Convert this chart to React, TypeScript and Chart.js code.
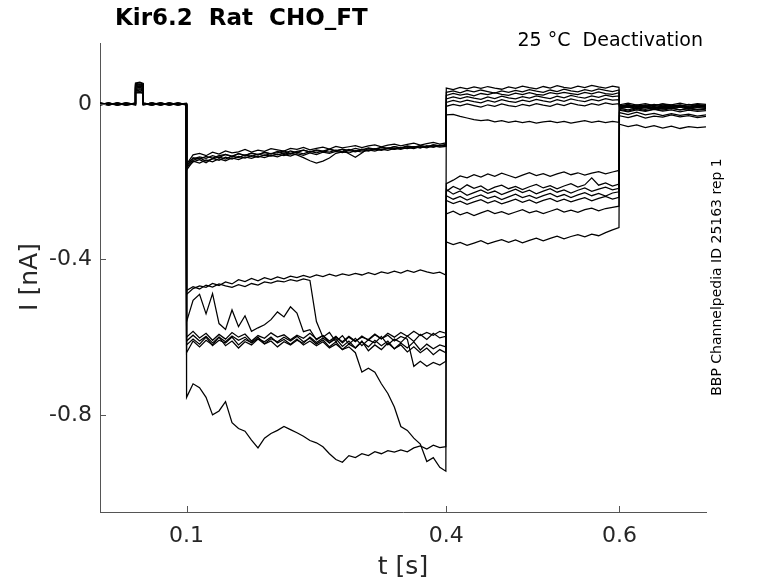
import { useEffect, useRef } from "react";
import { Chart, registerables } from "chart.js";

Chart.register(...registerables);

// sample times (s): holding, prepulse 0.1-0.4, test 0.4-0.6, tail 0.6-0.7
const tBase = [0, 0.01, 0.02, 0.03, 0.041, 0.041, 0.046, 0.05, 0.05, 0.06, 0.07, 0.08, 0.09, 0.0995];
const tStep = Array.from({ length: 40 }, (_, k) => 0.1 + 0.0075 * k).concat([0.3995]);
const tTest = Array.from({ length: 25 }, (_, k) => 0.4 + 0.008 * k).concat([0.5995]);
const tTail = Array.from({ length: 11 }, (_, k) => 0.6 + 0.01 * k);
const times = [...tBase, ...tStep, ...tTest, ...tTail];

// current (nA) per sweep: base / prepulse / test / tail
const sweep01 = [
  0.002, -0.002, 0.003, -0.001, 0.001, 0.052, 0.055, 0.051, 0.002, -0.002, 0.001, -0.003, 0.002, 0.0,
  -0.155, -0.131, -0.127, -0.133, -0.124, -0.129, -0.121, -0.126, -0.123, -0.117, -0.124, -0.119, -0.122, -0.115, -0.118, -0.121, -0.114, -0.117, -0.112, -0.118, -0.114, -0.111, -0.116, -0.109, -0.113, -0.11, -0.107, -0.112, -0.108, -0.105, -0.11, -0.106, -0.103, -0.108, -0.104, -0.101, -0.106, -0.102, -0.099, -0.103, -0.1,
  0.041, 0.037, 0.043, 0.039, 0.044, 0.04, 0.045, 0.041, 0.038, 0.044, 0.04, 0.046, 0.042, 0.039, 0.045, 0.041, 0.047, 0.043, 0.04, 0.046, 0.042, 0.048, 0.044, 0.041, 0.046, 0.043,
  -0.002, 0.002, -0.003, 0.001, -0.004, 0.0, -0.002, 0.002, -0.003, 0.001, -0.001,
];
const sweep02 = [
  -0.001, 0.003, -0.002, 0.002, -0.001, 0.048, 0.05, 0.047, -0.002, 0.003, -0.001, 0.002, -0.002, 0.001,
  -0.16, -0.138, -0.142, -0.135, -0.139, -0.133, -0.13, -0.136, -0.128, -0.132, -0.127, -0.131, -0.124, -0.128, -0.125, -0.121, -0.127, -0.122, -0.119, -0.124, -0.12, -0.123, -0.117, -0.121, -0.116, -0.119, -0.114, -0.118, -0.113, -0.116, -0.111, -0.114, -0.11, -0.113, -0.108, -0.111, -0.107, -0.11, -0.105, -0.108, -0.106,
  0.03, 0.034, 0.029, 0.035, 0.031, 0.036, 0.032, 0.028, 0.034, 0.03, 0.035, 0.031, 0.037, 0.033, 0.03, 0.036, 0.032, 0.038, 0.034, 0.031, 0.037, 0.033, 0.039, 0.035, 0.032, 0.036,
  -0.005, -0.001, -0.006, -0.002, -0.004, 0.0, -0.005, -0.002, -0.006, -0.001, -0.004,
];
const sweep03 = [
  0.001, -0.003, 0.002, -0.002, 0.002, 0.044, 0.046, 0.043, 0.001, -0.003, 0.002, -0.001, 0.003, -0.002,
  -0.158, -0.145, -0.139, -0.147, -0.141, -0.136, -0.142, -0.134, -0.138, -0.131, -0.135, -0.129, -0.133, -0.127, -0.131, -0.126, -0.129, -0.124, -0.128, -0.122, -0.126, -0.121, -0.124, -0.119, -0.123, -0.117, -0.121, -0.116, -0.119, -0.115, -0.118, -0.113, -0.116, -0.112, -0.114, -0.11, -0.113, -0.108, -0.111, -0.107, -0.109,
  0.022, 0.027, 0.023, 0.026, 0.021, 0.027, 0.024, 0.029, 0.025, 0.022, 0.028, 0.024, 0.029, 0.025, 0.023, 0.029, 0.026, 0.03, 0.027, 0.024, 0.03, 0.026, 0.031, 0.027, 0.025, 0.029,
  -0.007, -0.003, -0.008, -0.004, -0.009, -0.005, -0.007, -0.003, -0.008, -0.004, -0.006,
];
const sweep04 = [
  -0.002, 0.001, -0.003, 0.001, -0.002, 0.04, 0.042, 0.039, -0.001, 0.002, -0.002, 0.001, -0.003, 0.001,
  -0.163, -0.149, -0.143, -0.151, -0.14, -0.145, -0.137, -0.142, -0.135, -0.139, -0.133, -0.137, -0.131, -0.134, -0.129, -0.133, -0.127, -0.131, -0.138, -0.146, -0.152, -0.147, -0.139, -0.127, -0.123, -0.126, -0.12, -0.124, -0.118, -0.121, -0.116, -0.119, -0.114, -0.117, -0.112, -0.115, -0.11, -0.113, -0.108, -0.111, -0.109,
  0.013, 0.018, 0.014, 0.019, 0.015, 0.012, 0.018, 0.014, 0.02, 0.016, 0.013, 0.019, 0.015, 0.021, 0.017, 0.014, 0.02, 0.016, 0.022, 0.018, 0.015, 0.021, 0.017, 0.023, 0.019, 0.021,
  -0.01, -0.006, -0.011, -0.007, -0.012, -0.008, -0.01, -0.006, -0.011, -0.007, -0.009,
];
const sweep05 = [
  0.003, -0.001, 0.001, -0.003, 0.001, 0.034, 0.036, 0.033, 0.002, -0.001, 0.003, -0.002, 0.001, -0.001,
  -0.152, -0.141, -0.136, -0.14, -0.133, -0.138, -0.13, -0.134, -0.128, -0.133, -0.126, -0.13, -0.125, -0.128, -0.122, -0.127, -0.121, -0.125, -0.119, -0.123, -0.118, -0.121, -0.116, -0.12, -0.117, -0.128, -0.137, -0.126, -0.114, -0.118, -0.112, -0.115, -0.11, -0.114, -0.109, -0.112, -0.107, -0.11, -0.105, -0.108, -0.104,
  0.004, 0.009, 0.005, 0.01, 0.006, 0.003, 0.009, 0.005, 0.011, 0.007, 0.004, 0.01, 0.006, 0.012, 0.008, 0.005, 0.011, 0.007, 0.013, 0.009, 0.006, 0.012, 0.008, 0.014, 0.01, 0.011,
  -0.004, -0.009, -0.005, -0.01, -0.006, -0.011, -0.007, -0.004, -0.009, -0.005, -0.008,
];
const sweep06 = [
  -0.001, 0.002, -0.002, 0.003, -0.001, 0.03, 0.031, 0.029, -0.002, 0.001, -0.002, 0.002, -0.001, 0.002,
  -0.17, -0.147, -0.152, -0.144, -0.149, -0.141, -0.146, -0.139, -0.143, -0.136, -0.14, -0.134, -0.138, -0.132, -0.136, -0.13, -0.134, -0.128, -0.132, -0.126, -0.13, -0.124, -0.127, -0.122, -0.125, -0.12, -0.123, -0.118, -0.121, -0.116, -0.119, -0.114, -0.117, -0.112, -0.115, -0.11, -0.113, -0.108, -0.111, -0.106, -0.108,
  -0.006, -0.001, -0.005, 0.0, -0.004, -0.008, -0.002, -0.006, 0.0, -0.004, -0.007, -0.001, -0.005, 0.001, -0.003, -0.006, 0.0, -0.004, 0.002, -0.002, -0.005, 0.001, -0.003, 0.003, -0.001, 0.001,
  -0.012, -0.008, -0.013, -0.009, -0.014, -0.01, -0.012, -0.008, -0.013, -0.009, -0.011,
];
const sweep07 = [
  0.001, -0.002, 0.002, -0.001, 0.002, 0.054, 0.056, 0.053, 0.001, -0.002, 0.002, -0.001, 0.001, -0.002,
  -0.49, -0.475, -0.468, -0.472, -0.462, -0.467, -0.458, -0.463, -0.452, -0.457, -0.449, -0.455, -0.447, -0.452, -0.445, -0.45, -0.443, -0.447, -0.441, -0.446, -0.44, -0.444, -0.438, -0.443, -0.437, -0.441, -0.436, -0.44, -0.434, -0.439, -0.432, -0.436, -0.43, -0.435, -0.428, -0.433, -0.427, -0.432, -0.436, -0.433, -0.44,
  -0.028, -0.027, -0.032, -0.036, -0.04, -0.043, -0.041, -0.046, -0.043, -0.047, -0.044, -0.048, -0.045, -0.049, -0.046, -0.044, -0.048, -0.045, -0.049, -0.046, -0.043, -0.047, -0.044, -0.048, -0.045, -0.047,
  -0.003, -0.007, -0.002, -0.006, -0.001, -0.005, -0.002, -0.006, -0.001, -0.004, -0.003,
];
const sweep08 = [
  -0.002, 0.002, -0.001, 0.003, -0.001, 0.047, 0.049, 0.046, -0.001, 0.002, -0.002, 0.003, -0.001, 0.001,
  -0.48, -0.47, -0.476, -0.466, -0.471, -0.463, -0.468, -0.472, -0.465, -0.47, -0.462, -0.466, -0.458, -0.461, -0.455, -0.458, -0.452, -0.456, -0.45, -0.454, -0.56, -0.6, -0.588, -0.612, -0.596, -0.618, -0.603, -0.622, -0.607, -0.615, -0.598, -0.62, -0.605, -0.614, -0.597, -0.611, -0.593, -0.606, -0.59, -0.602, -0.598,
  -0.205, -0.196, -0.185, -0.19, -0.182, -0.188, -0.18, -0.186, -0.178, -0.184, -0.19, -0.183, -0.177, -0.184, -0.179, -0.186, -0.18, -0.175, -0.182, -0.177, -0.183, -0.178, -0.174, -0.18, -0.175, -0.171,
  -0.014, -0.018, -0.012, -0.017, -0.013, -0.016, -0.011, -0.015, -0.012, -0.016, -0.013,
];
const sweep09 = [
  0.002, -0.001, 0.003, -0.002, 0.001, 0.041, 0.043, 0.04, 0.002, -0.001, 0.003, -0.002, 0.002, -0.001,
  -0.56, -0.505, -0.49, -0.54, -0.488, -0.565, -0.58, -0.53, -0.573, -0.545, -0.585, -0.576, -0.568, -0.555, -0.535, -0.548, -0.522, -0.538, -0.586, -0.581, -0.607, -0.596, -0.615, -0.604, -0.624, -0.61, -0.628, -0.612, -0.625, -0.608, -0.622, -0.61, -0.63, -0.615, -0.628, -0.612, -0.633, -0.618, -0.63, -0.62, -0.625,
  -0.225, -0.212, -0.22, -0.208, -0.217, -0.211, -0.222, -0.214, -0.209, -0.218, -0.212, -0.22, -0.213, -0.207, -0.216, -0.21, -0.218, -0.211, -0.205, -0.214, -0.208, -0.19, -0.209, -0.203, -0.211, -0.206,
  -0.008, -0.004, -0.009, -0.005, -0.01, -0.006, -0.008, -0.004, -0.009, -0.005, -0.007,
];
const sweep10 = [
  -0.001, 0.002, -0.003, 0.001, -0.002, 0.037, 0.039, 0.036, -0.002, 0.001, -0.003, 0.002, -0.001, 0.001,
  -0.6, -0.585, -0.602, -0.59, -0.608, -0.593, -0.605, -0.588, -0.6, -0.592, -0.61, -0.596, -0.603, -0.589, -0.6, -0.594, -0.607, -0.595, -0.603, -0.59, -0.605, -0.596, -0.61, -0.598, -0.615, -0.6, -0.612, -0.597, -0.608, -0.594, -0.605, -0.59, -0.6, -0.588, -0.598, -0.585, -0.596, -0.588, -0.595, -0.585, -0.59,
  -0.22, -0.232, -0.224, -0.235, -0.228, -0.221, -0.23, -0.224, -0.233, -0.226, -0.219, -0.228, -0.222, -0.231, -0.224, -0.218, -0.227, -0.221, -0.229, -0.222, -0.216, -0.225, -0.219, -0.214, -0.221, -0.217,
  -0.011, -0.015, -0.01, -0.014, -0.009, -0.013, -0.01, -0.015, -0.011, -0.014, -0.012,
];
const sweep11 = [
  0.001, -0.002, 0.002, -0.003, 0.001, 0.031, 0.032, 0.03, 0.001, -0.002, 0.002, -0.003, 0.001, 0.0,
  -0.62, -0.605, -0.618, -0.6, -0.622, -0.608, -0.615, -0.6, -0.62, -0.606, -0.614, -0.6, -0.617, -0.604, -0.612, -0.6, -0.61, -0.598, -0.612, -0.603, -0.618, -0.607, -0.625, -0.612, -0.632, -0.618, -0.628, -0.61, -0.635, -0.62, -0.632, -0.615, -0.63, -0.62, -0.638, -0.625, -0.64, -0.628, -0.645, -0.632, -0.64,
  -0.236, -0.245, -0.238, -0.247, -0.24, -0.234, -0.243, -0.237, -0.246, -0.239, -0.232, -0.241, -0.235, -0.243, -0.236, -0.23, -0.239, -0.233, -0.241, -0.234, -0.228, -0.236, -0.23, -0.237, -0.229, -0.226,
  -0.022, -0.027, -0.021, -0.028, -0.024, -0.03, -0.025, -0.029, -0.026, -0.031, -0.028,
];
const sweep12 = [
  -0.002, 0.001, -0.001, 0.002, -0.002, 0.028, 0.029, 0.027, -0.001, 0.002, -0.002, 0.001, -0.002, 0.001,
  -0.64, -0.61, -0.625, -0.608, -0.62, -0.6, -0.622, -0.61, -0.628, -0.612, -0.62, -0.605, -0.618, -0.61, -0.625, -0.612, -0.62, -0.608, -0.616, -0.6, -0.614, -0.602, -0.615, -0.6, -0.612, -0.598, -0.61, -0.6, -0.606, -0.592, -0.604, -0.595, -0.61, -0.598, -0.605, -0.675, -0.662, -0.675, -0.665, -0.672, -0.662,
  -0.248, -0.256, -0.25, -0.258, -0.252, -0.246, -0.255, -0.249, -0.257, -0.251, -0.245, -0.253, -0.247, -0.255, -0.248, -0.243, -0.251, -0.245, -0.252, -0.246, -0.241, -0.249, -0.243, -0.238, -0.245, -0.24,
  -0.016, -0.02, -0.015, -0.019, -0.014, -0.018, -0.015, -0.02, -0.016, -0.019, -0.017,
];
const sweep13 = [
  0.002, -0.001, 0.001, -0.002, 0.002, 0.044, 0.046, 0.043, 0.001, -0.002, 0.001, -0.001, 0.002, -0.001,
  -0.755, -0.72, -0.73, -0.755, -0.8, -0.79, -0.766, -0.82, -0.835, -0.842, -0.865, -0.885, -0.86, -0.848, -0.84, -0.83, -0.838, -0.846, -0.855, -0.866, -0.872, -0.882, -0.9, -0.915, -0.922, -0.905, -0.91, -0.9, -0.905, -0.895, -0.9, -0.892, -0.896, -0.89, -0.895, -0.885, -0.88, -0.888, -0.878, -0.884, -0.882,
  -0.283, -0.276, -0.285, -0.279, -0.287, -0.28, -0.274, -0.282, -0.277, -0.284, -0.278, -0.272, -0.28, -0.275, -0.282, -0.276, -0.27, -0.278, -0.273, -0.279, -0.272, -0.268, -0.275, -0.269, -0.266, -0.263,
  -0.03, -0.035, -0.029, -0.036, -0.031, -0.034, -0.028, -0.033, -0.03, -0.035, -0.032,
];
const sweep14 = [
  -0.001, 0.002, -0.002, 0.001, -0.001, 0.05, 0.052, 0.049, -0.001, 0.002, -0.001, 0.002, -0.002, 0.001,
  -0.61, -0.595, -0.61, -0.598, -0.615, -0.6, -0.612, -0.597, -0.608, -0.6, -0.615, -0.604, -0.612, -0.6, -0.615, -0.606, -0.618, -0.605, -0.62, -0.61, -0.622, -0.612, -0.628, -0.618, -0.632, -0.625, -0.64, -0.69, -0.68, -0.69, -0.72, -0.745, -0.78, -0.83, -0.84, -0.86, -0.875, -0.92, -0.91, -0.935, -0.945,
  -0.355, -0.362, -0.356, -0.364, -0.358, -0.352, -0.36, -0.354, -0.349, -0.356, -0.35, -0.357, -0.351, -0.345, -0.352, -0.346, -0.34, -0.347, -0.341, -0.336, -0.342, -0.335, -0.339, -0.331, -0.324, -0.318,
  -0.052, -0.058, -0.054, -0.061, -0.056, -0.062, -0.057, -0.063, -0.058, -0.061, -0.059,
];

const sweeps = [
  sweep01, sweep02, sweep03, sweep04, sweep05, sweep06, sweep07,
  sweep08, sweep09, sweep10, sweep11, sweep12, sweep13, sweep14,
];

const xTicks = [0.1, 0.4, 0.6];
const yTicks = [-0.8, -0.4, 0];

const FONT = "'DejaVu Sans', sans-serif";
const AXIS = "#555555";
const TEXT = "#262626";

// MATLAB-style inward ticks plus the loose texts round the axes
const decorations = {
  id: "decorations",
  afterDraw(chart: Chart) {
    const { ctx, chartArea } = chart;
    const sx = chart.scales.x;
    const sy = chart.scales.y;
    ctx.save();
    ctx.strokeStyle = AXIS;
    ctx.lineWidth = 1;
    ctx.beginPath();
    xTicks.forEach((v) => {
      const px = Math.round(sx.getPixelForValue(v)) + 0.5;
      ctx.moveTo(px, chartArea.bottom);
      ctx.lineTo(px, chartArea.bottom - 6);
    });
    yTicks.forEach((v) => {
      const py = Math.round(sy.getPixelForValue(v)) + 0.5;
      ctx.moveTo(chartArea.left, py);
      ctx.lineTo(chartArea.left + 6, py);
    });
    ctx.stroke();

    ctx.fillStyle = "#000";
    ctx.textBaseline = "middle";
    ctx.font = `bold 23px ${FONT}`;
    ctx.textAlign = "left";
    ctx.fillText("Kir6.2  Rat  CHO_FT", 115, 19);

    ctx.font = `19px ${FONT}`;
    ctx.textAlign = "right";
    ctx.fillText("25 °C  Deactivation", 703, 41);

    ctx.fillStyle = TEXT;
    ctx.font = `25px ${FONT}`;
    ctx.textAlign = "center";
    ctx.fillText("t [s]", 403, 567);

    ctx.save();
    ctx.translate(30, 277);
    ctx.rotate(-Math.PI / 2);
    ctx.fillText("I [nA]", 0, 0);
    ctx.restore();

    ctx.fillStyle = "#000";
    ctx.font = `14px ${FONT}`;
    ctx.translate(717, 277);
    ctx.rotate(-Math.PI / 2);
    ctx.fillText("BBP Channelpedia ID 25163 rep 1", 0, 0);
    ctx.restore();
  },
};

export default function App() {
  const canvasRef = useRef<HTMLCanvasElement | null>(null);
  const chartRef = useRef<Chart | null>(null);

  useEffect(() => {
    if (chartRef.current) {
      chartRef.current.destroy();
    }
    const ctx = canvasRef.current?.getContext("2d");
    if (!ctx) return;

    chartRef.current = new Chart(ctx, {
      type: "line",
      data: {
        datasets: sweeps.map((s, i) => ({
          label: `sweep ${i + 1}`,
          data: times.map((t, j) => ({ x: t, y: s[j] })),
          borderColor: "#000000",
          borderWidth: 1.25,
          pointRadius: 0,
          tension: 0,
          fill: false,
        })),
      },
      options: {
        animation: false,
        responsive: true,
        maintainAspectRatio: false,
        layout: { padding: { top: 43, right: 72, left: 0, bottom: 0 } },
        plugins: {
          legend: { display: false },
          tooltip: { enabled: false },
        },
        scales: {
          x: {
            type: "linear",
            min: 0,
            max: 0.7,
            afterBuildTicks: (scale) => {
              scale.ticks = xTicks.map((v) => ({ value: v }));
            },
            afterFit: (scale) => {
              scale.height = 71;
            },
            grid: { display: false, drawTicks: false },
            border: { display: true, color: AXIS, width: 1 },
            ticks: {
              padding: 11,
              color: TEXT,
              font: { family: FONT, size: 22 },
              maxRotation: 0,
              callback: (v) => String(v),
            },
          },
          y: {
            type: "linear",
            min: -1.05,
            max: 0.157,
            afterBuildTicks: (scale) => {
              scale.ticks = yTicks.map((v) => ({ value: v }));
            },
            afterFit: (scale) => {
              scale.width = 100;
            },
            grid: { display: false, drawTicks: false },
            border: { display: true, color: AXIS, width: 1 },
            ticks: {
              padding: 8,
              color: TEXT,
              font: { family: FONT, size: 22 },
              callback: (v) => (v === 0 ? "0" : String(v)),
            },
          },
        },
      },
      plugins: [decorations],
    });

    return () => {
      if (chartRef.current) {
        chartRef.current.destroy();
        chartRef.current = null;
      }
    };
  }, []);

  return (
    <div style={{ position: "fixed", left: 0, top: 0, width: "778px", height: "583px", background: "#fff" }}>
      <canvas ref={canvasRef} />
    </div>
  );
}
